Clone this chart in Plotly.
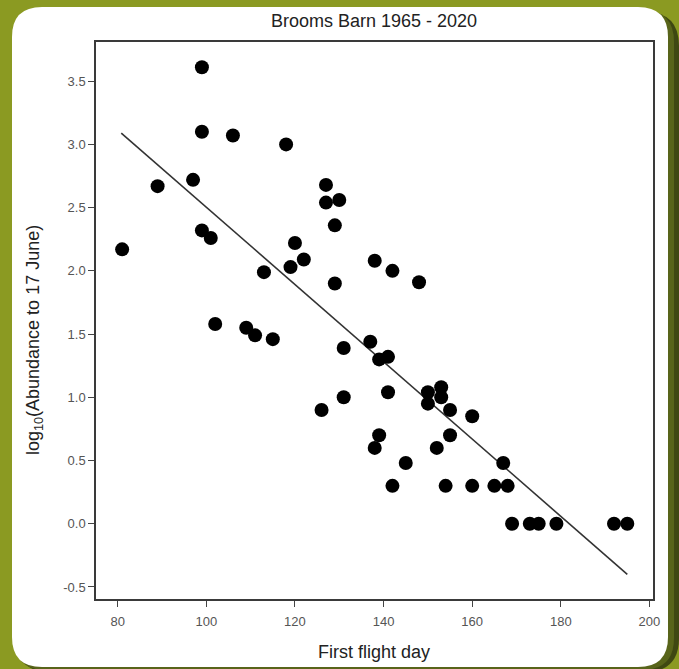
import plotly.graph_objects as go

# ---- data ----
first_flight_day = [81, 89, 97, 99, 99, 99, 101, 102, 106, 109, 111, 113, 115, 118, 119,
                    120, 122, 126, 127, 127, 129, 129, 130, 131, 131, 137, 138, 138, 139,
                    139, 141, 141, 142, 142, 145, 148, 150, 150, 152, 153, 153, 154, 155,
                    155, 160, 160, 165, 167, 168, 169, 173, 175, 179, 192, 195]
log_abundance = [2.17, 2.67, 2.72, 3.61, 3.10, 2.32, 2.26, 1.58, 3.07, 1.55, 1.49, 1.99, 1.46, 3.00, 2.03,
                 2.22, 2.09, 0.90, 2.68, 2.54, 2.36, 1.90, 2.56, 1.39, 1.00, 1.44, 2.08, 0.60, 0.70,
                 1.30, 1.32, 1.04, 2.00, 0.30, 0.48, 1.91, 1.04, 0.95, 0.60, 1.08, 1.00, 0.30, 0.90,
                 0.70, 0.85, 0.30, 0.30, 0.48, 0.30, 0.00, 0.00, 0.00, 0.00, 0.00, 0.00]
fit_x = [80.8, 195.0]
fit_y = [3.09, -0.40]

x_tickvals = [80, 100, 120, 140, 160, 180, 200]
x_ticktext = ["80", "100", "120", "140", "160", "180", "200"]
y_tickvals = [-0.5, 0.0, 0.5, 1.0, 1.5, 2.0, 2.5, 3.0, 3.5]
y_ticktext = ["-0.5", "0.0", "0.5", "1.0", "1.5", "2.0", "2.5", "3.0", "3.5"]

title_text = "Brooms Barn 1965 - 2020"
x_title = "First flight day"
y_title = "log<sub>10</sub>(Abundance to 17 June)"

# ---- layout geometry (pixels) ----
W, H = 679, 669
ML, MR, MT, MB = 96, 26, 42, 70
PW = W - ML - MR
PH = H - MT - MB


def px(x):
    return (x - ML) / PW


def py(y):
    return (H - MB - y) / PH


def rounded(x0, y0, x1, y1, r):
    pts = []
    pts.append(f"M {px(x0 + r)} {py(y0)}")
    pts.append(f"L {px(x1 - r)} {py(y0)}")
    pts.append(f"Q {px(x1)} {py(y0)} {px(x1)} {py(y0 + r)}")
    pts.append(f"L {px(x1)} {py(y1 - r)}")
    pts.append(f"Q {px(x1)} {py(y1)} {px(x1 - r)} {py(y1)}")
    pts.append(f"L {px(x0 + r)} {py(y1)}")
    pts.append(f"Q {px(x0)} {py(y1)} {px(x0)} {py(y1 - r)}")
    pts.append(f"L {px(x0)} {py(y0 + r)}")
    pts.append(f"Q {px(x0)} {py(y0)} {px(x0 + r)} {py(y0)}")
    pts.append("Z")
    return " ".join(pts)


FONT = "Liberation Sans, Arial, sans-serif"

fig = go.Figure()
fig.add_trace(go.Scatter(
    x=fit_x, y=fit_y, mode="lines",
    line=dict(color="#333333", width=1.6),
    showlegend=False, hoverinfo="skip",
))
fig.add_trace(go.Scatter(
    x=first_flight_day, y=log_abundance, mode="markers",
    marker=dict(color="#000000", size=14, line=dict(width=0)),
    showlegend=False,
))

shapes = [
    dict(type="path", xref="paper", yref="paper", layer="below",
         path=rounded(16, 12, 679, 672, 34), fillcolor="#3f4812", line=dict(width=0)),
    dict(type="path", xref="paper", yref="paper", layer="below",
         path=rounded(14, 10, 674, 670, 32), fillcolor="#58641a", line=dict(width=0)),
    dict(type="path", xref="paper", yref="paper", layer="below",
         path=rounded(12, 7, 668, 667, 30), fillcolor="#ffffff", line=dict(width=0)),
]

fig.update_layout(
    width=W, height=H,
    margin=dict(l=ML, r=MR, t=MT, b=MB),
    paper_bgcolor="#8b9a22",
    plot_bgcolor="#ffffff",
    shapes=shapes,
    font=dict(family=FONT, color="#333333"),
    title=dict(text=title_text, x=374 / W, xanchor="center", y=1 - 21 / H, yanchor="middle",
               font=dict(size=18, color="#222222", family=FONT)),
    annotations=[
        dict(text=x_title, xref="paper", yref="paper", x=px(374), y=py(652),
             xanchor="center", yanchor="middle", showarrow=False,
             font=dict(size=18, color="#222222", family=FONT)),
        dict(text=y_title, xref="paper", yref="paper", x=px(34), y=py(340),
             xanchor="center", yanchor="middle", showarrow=False, textangle=-90,
             font=dict(size=18, color="#222222", family=FONT)),
    ],
    xaxis=dict(
        range=[75.1, 200.8], tickmode="array", tickvals=x_tickvals, ticktext=x_ticktext,
        ticks="outside", ticklen=6, tickwidth=1.3, tickcolor="#444444",
        showline=True, linecolor="#3a3a3a", linewidth=1.5, mirror=True,
        showgrid=False, zeroline=False, ticklabelstandoff=4,
        tickfont=dict(size=13, color="#555555", family=FONT),
    ),
    yaxis=dict(
        range=[-0.595, 3.81], tickmode="array", tickvals=y_tickvals, ticktext=y_ticktext,
        ticks="outside", ticklen=6, tickwidth=1.3, tickcolor="#444444",
        showline=True, linecolor="#3a3a3a", linewidth=1.5, mirror=True,
        showgrid=False, zeroline=False,
        tickfont=dict(size=13, color="#555555", family=FONT),
    ),
)

fig.write_html("out.html")
